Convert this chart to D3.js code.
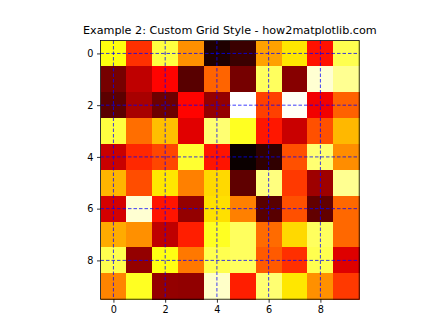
<!DOCTYPE html>
<html>
<head>
<meta charset="utf-8">
<script src="https://cdn.jsdelivr.net/npm/d3@7"></script>
<style>
  body { margin: 0; background: #fff; }
  text { font-family: "DejaVu Sans", sans-serif; }
</style>
</head>
<body>
<svg id="chart" width="448" height="336"></svg>
<script>
const rows = d3.range(10);
const cols = d3.range(10);
const tickVals = [0, 2, 4, 6, 8];

// values, row by row (top to bottom)
const row0 = [0.76, 0.437, 0.81, 0.58, 0.03, 0.07, 0.605, 0.71, 0.39, 0.825];
const row1 = [0.16, 0.27, 0.37, 0.115, 0.515, 0.16, 0.84, 0.185, 0.955, 0.89];
const row2 = [0.12, 0.235, 0.145, 0.37, 0.205, 1.0, 0.46, 0.99, 0.345, 0.51];
const row3 = [0.81, 0.53, 0.65, 0.32, 0.86, 0.78, 0.40, 0.285, 0.485, 0.64];
const row4 = [0.285, 0.425, 0.47, 0.795, 0.395, 0.0, 0.055, 0.485, 0.86, 0.575];
const row5 = [0.635, 0.48, 0.71, 0.556, 0.69, 0.125, 0.873, 0.45, 0.22, 0.89];
const row6 = [0.30, 0.955, 0.395, 0.205, 0.70, 0.556, 0.115, 0.485, 0.13, 0.52];
const row7 = [0.62, 0.58, 0.27, 0.41, 0.78, 0.84, 0.525, 0.69, 0.84, 0.52];
const row8 = [0.825, 0.205, 0.765, 0.545, 0.825, 0.84, 0.5, 0.435, 0.825, 0.315];
const row9 = [0.563, 0.78, 0.205, 0.2, 0.945, 0.41, 0.86, 0.71, 0.58, 0.45];
const grid = [row0, row1, row2, row3, row4, row5, row6, row7, row8, row9];

const svg = d3.select("#chart");
const mLeft = 100.5, mTop = 40.5, size = 258.7;

const x = d3.scaleLinear().domain([-0.5, 9.5]).range([mLeft, mLeft + size]);
const y = d3.scaleLinear().domain([-0.5, 9.5]).range([mTop, mTop + size]);

// matplotlib "hot" colormap, piecewise linear
const flat = grid.flat();
const norm = d3.scaleLinear().domain(d3.extent(flat)).range([0, 1]);
const hot = d3.scaleLinear()
    .domain([0, 0.365079, 0.746032, 1])
    .range(["#0b0000", "#ff0000", "#ffff00", "#ffffff"])
    .clamp(true);

const cells = [];
rows.forEach(function (r) {
    cols.forEach(function (c) {
        cells.push({r: r, c: c, v: grid[r][c]});
    });
});

svg.append("g")
    .selectAll("rect")
    .data(cells)
    .enter()
    .append("rect")
    .attr("x", d => x(d.c - 0.5))
    .attr("y", d => y(d.r - 0.5))
    .attr("width", x(1) - x(0) + 0.3)
    .attr("height", y(1) - y(0) + 0.3)
    .attr("fill", d => hot(norm(d.v)))
    .attr("shape-rendering", "crispEdges");

// dashed blue grid
const g = svg.append("g").attr("class", "grid");
g.selectAll("line.v")
    .data(tickVals)
    .enter()
    .append("line")
    .attr("class", "v")
    .attr("x1", d => x(d)).attr("x2", d => x(d))
    .attr("y1", mTop).attr("y2", mTop + size);
g.selectAll("line.h")
    .data(tickVals)
    .enter()
    .append("line")
    .attr("class", "h")
    .attr("y1", d => y(d)).attr("y2", d => y(d))
    .attr("x1", mLeft).attr("x2", mLeft + size);
g.selectAll("line")
    .attr("stroke", "#0000ff")
    .attr("stroke-opacity", 0.85)
    .attr("stroke-width", 0.9)
    .attr("stroke-dasharray", "3.5,2");

// axes
const xAxis = d3.axisBottom(x).tickValues(tickVals).tickSize(3.5).tickPadding(3.5);
const yAxis = d3.axisLeft(y).tickValues(tickVals).tickSize(3.5).tickPadding(3.5);

const gx = svg.append("g").attr("transform", `translate(0,${mTop + size})`).call(xAxis);
const gy = svg.append("g").attr("transform", `translate(${mLeft},0)`).call(yAxis);
[gx, gy].forEach(function (a) {
    a.select(".domain").remove();
    a.selectAll(".tick line").attr("stroke", "#000").attr("stroke-width", 0.8);
    a.selectAll(".tick text").attr("font-size", "9.7px").attr("fill", "#000")
        .style("font-family", "'DejaVu Sans', sans-serif");
});

svg.append("rect")
    .attr("x", mLeft).attr("y", mTop)
    .attr("width", size).attr("height", size)
    .attr("fill", "none")
    .attr("stroke", "#000")
    .attr("stroke-width", 0.8);

svg.append("text")
    .attr("x", mLeft + size / 2)
    .attr("y", mTop - 7)
    .attr("text-anchor", "middle")
    .attr("font-size", "11.2px")
    .text("Example 2: Custom Grid Style - how2matplotlib.com");
</script>
</body>
</html>
